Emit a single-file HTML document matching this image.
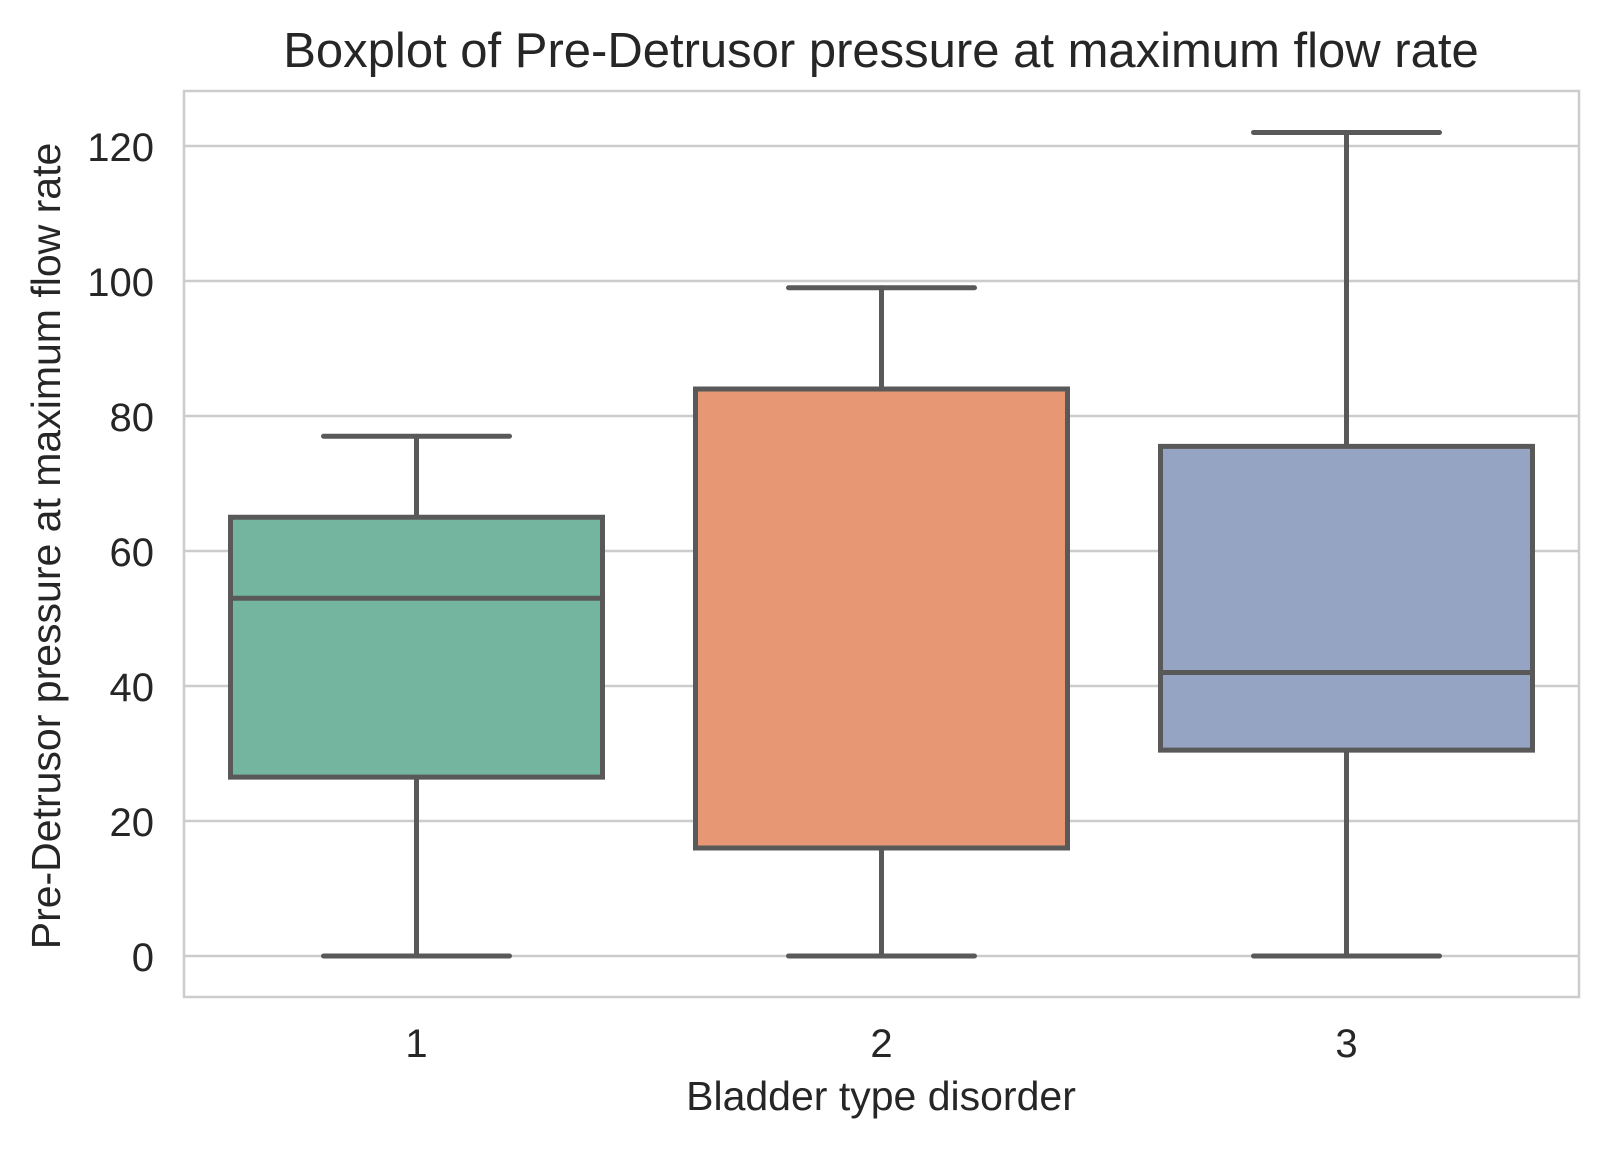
<!DOCTYPE html>
<html><head><meta charset="utf-8"><style>
body{margin:0;background:#fff;}
svg text{font-family:"Liberation Sans",Arial,sans-serif;fill:#262626;}
</style></head><body>
<svg width="1608" height="1149" viewBox="0 0 1608 1149">
<g id="grid"></g>
<rect x="184" y="91" width="1395" height="906" fill="none" stroke="#cccccc" stroke-width="2.5"/>
<g id="boxes"></g>
<g id="ticks"></g>
<text x="881" y="67" font-size="49" text-anchor="middle">Boxplot of Pre-Detrusor pressure at maximum flow rate</text>
<text x="881" y="1110" font-size="41" text-anchor="middle">Bladder type disorder</text>
<text transform="translate(60,546) rotate(-90)" font-size="41" text-anchor="middle">Pre-Detrusor pressure at maximum flow rate</text>
</svg>
<script>
const categories=["1","2","3"];
const mins=[0,0,0];
const q1s=[26.5,16,30.5];
const medians=[53,84,42];
const q3s=[65,84,75.5];
const maxs=[77,99,122];
const yTicks=[0,20,40,60,80,100,120];
const colors=["#74b59f","#e89774","#95a4c3"];
const NS="http://www.w3.org/2000/svg";
const y=v=>956-6.75*v;
const x=i=>416.5+465*i;
function mk(tag,attrs,parent){const e=document.createElementNS(NS,tag);for(const k in attrs)e.setAttribute(k,attrs[k]);parent.appendChild(e);return e;}
const grid=document.getElementById('grid'),boxes=document.getElementById('boxes'),ticks=document.getElementById('ticks');
yTicks.forEach(t=>{
  const l=mk('line',{x1:184,x2:1579,y1:y(t),y2:y(t),stroke:'#cccccc','stroke-width':2.5},grid);
  
  
  const tx=mk('text',{x:154,y:y(t)+15,'font-size':40,'text-anchor':'end'},ticks);
  tx.textContent=t;
  
  
});
categories.forEach((c,i)=>{
  const cx=x(i),hw=186,cw=93;
  const g=mk('g',{stroke:'#595959','stroke-width':5,fill:'none','stroke-linecap':'round'},boxes);
  
  
  mk('line',{x1:cx,x2:cx,y1:y(mins[i]),y2:y(q1s[i])},g);
  mk('line',{x1:cx,x2:cx,y1:y(q3s[i]),y2:y(maxs[i])},g);
  mk('line',{x1:cx-cw,x2:cx+cw,y1:y(mins[i]),y2:y(mins[i])},g);
  mk('line',{x1:cx-cw,x2:cx+cw,y1:y(maxs[i]),y2:y(maxs[i])},g);
  mk('rect',{x:cx-hw,y:y(q3s[i]),width:2*hw,height:y(q1s[i])-y(q3s[i]),fill:colors[i]},g);
  mk('line',{x1:cx-hw,x2:cx+hw,y1:y(medians[i]),y2:y(medians[i])},g);
  const tx=mk('text',{x:cx,y:1057,'font-size':40,'text-anchor':'middle'},ticks);
  tx.textContent=c;
  
  
});
</script>
</body></html>
